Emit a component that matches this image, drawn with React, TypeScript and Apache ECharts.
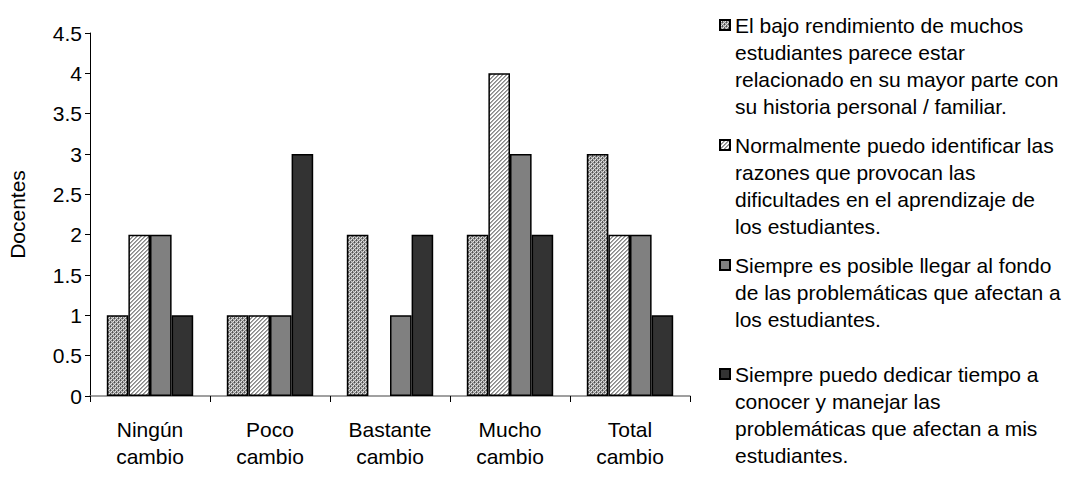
import React, { useEffect, useRef } from "react";
import * as echarts from "echarts";

const categories = ["Ningún\ncambio", "Poco\ncambio", "Bastante\ncambio", "Mucho\ncambio", "Total\ncambio"];

const seriesNames = [
  "El bajo rendimiento de muchos estudiantes parece estar relacionado en su mayor parte con su historia personal / familiar.",
  "Normalmente puedo identificar las razones que provocan las dificultades en el aprendizaje de los estudiantes.",
  "Siempre es posible llegar al fondo de las problemáticas que afectan a los estudiantes.",
  "Siempre puedo dedicar tiempo a conocer y manejar las problemáticas que afectan a mis estudiantes.",
];

const legendLines = [
  ["El bajo rendimiento de muchos", "estudiantes parece estar", "relacionado en su mayor parte con", "su historia personal / familiar."],
  ["Normalmente puedo identificar las", "razones que provocan las", "dificultades en el aprendizaje de", "los estudiantes."],
  ["Siempre es posible llegar al fondo", "de las problemáticas que afectan a", "los estudiantes."],
  ["Siempre puedo dedicar tiempo a", "conocer y manejar las", "problemáticas que afectan a mis", "estudiantes."],
];

const valuesHistoria = [1, 1, 2, 2, 3];
const valuesIdentificar = [2, 1, 0, 4, 2];
const valuesFondo = [2, 1, 1, 3, 2];
const valuesTiempo = [1, 3, 2, 2, 1];

const yMin = 0;
const yMax = 4.5;
const yInterval = 0.5;
const yAxisName = "Docentes";

const FONT = "'Liberation Sans', Arial, sans-serif";
const FS = 21;
const LH = 27;
const legendIconCenters = [25, 145, 265, 374];

function makeDots(): HTMLCanvasElement {
  const c = document.createElement("canvas");
  c.width = 4;
  c.height = 4;
  const ctx = c.getContext("2d")!;
  const map = [
    ["#505050", "#9a9a9a", "#d0d0d0", "#8a8a8a"],
    ["#a0a0a0", "#e8e8e8", "#606060", "#c4c4c4"],
    ["#d0d0d0", "#8a8a8a", "#505050", "#9a9a9a"],
    ["#606060", "#c4c4c4", "#a0a0a0", "#e8e8e8"],
  ];
  for (let y = 0; y < 4; y++) {
    for (let x = 0; x < 4; x++) {
      ctx.fillStyle = map[y][x];
      ctx.fillRect(x, y, 1, 1);
    }
  }
  return c;
}

function makeStripes(): HTMLCanvasElement {
  const c = document.createElement("canvas");
  c.width = 4;
  c.height = 4;
  const ctx = c.getContext("2d")!;
  for (let y = 0; y < 4; y++) {
    for (let x = 0; x < 4; x++) {
      const k = (x + y) % 4;
      ctx.fillStyle = k === 0 ? "#8a8a8a" : k === 1 ? "#a8a8a8" : "#ffffff";
      ctx.fillRect(x, y, 1, 1);
    }
  }
  return c;
}

export default function App() {
  const ref = useRef<HTMLDivElement>(null);

  useEffect(() => {
    if (!ref.current) return;
    const chart = echarts.init(ref.current, undefined, { renderer: "svg" });

    const fills: any[] = [
      { image: makeDots(), repeat: "repeat" },
      { image: makeStripes(), repeat: "repeat" },
      "#808080",
      "#333333",
    ];
    const allValues = [valuesHistoria, valuesIdentificar, valuesFondo, valuesTiempo];

    const series = seriesNames.map((name, i) => ({
      name,
      type: "bar",
      barGap: "0%",
      barCategoryGap: "28%",
      itemStyle: { color: fills[i], borderColor: "#000", borderWidth: 1.5 },
      data: allValues[i].map((v) => (v === 0 ? { value: v, itemStyle: { borderWidth: 0 } } : v)),
    }));

    const legends = seriesNames.map((name, i) => {
      const n = legendLines[i].length;
      const H = (2 * n - 1) * LH;
      // leading blank lines put the first text line level with the icon
      const text = new Array(n - 1).fill("").concat(legendLines[i]).join("\n");
      return {
        show: true,
        type: "plain",
        orient: "vertical",
        left: 714,
        top: legendIconCenters[i] - 5 - H / 2,
        itemWidth: 10,
        itemHeight: 10,
        itemGap: 0,
        icon: "rect",
        selectedMode: false,
        data: [name],
        formatter: () => text,
        textStyle: {
          fontFamily: FONT,
          fontSize: FS,
          color: "#000",
          lineHeight: LH,
        },
      };
    });

    chart.setOption({
      animation: false,
      backgroundColor: "#fff",
      textStyle: { fontFamily: FONT },
      grid: { left: 90, right: 388, top: 33, bottom: 81, containLabel: false, outerBoundsMode: "none" },
      legend: legends,
      xAxis: {
        type: "category",
        data: categories,
        axisLine: { lineStyle: { color: "#808080", width: 1.5 } },
        axisTick: { show: true, length: 6, lineStyle: { color: "#000", width: 1 } },
        axisLabel: { fontFamily: FONT, fontSize: FS, color: "#000", lineHeight: LH, margin: 20, interval: 0 },
        splitLine: { show: false },
      },
      yAxis: {
        type: "value",
        min: yMin,
        max: yMax,
        interval: yInterval,
        name: yAxisName,
        nameLocation: "middle",
        nameGap: 62,
        nameTextStyle: { fontFamily: FONT, fontSize: FS, color: "#000" },
        axisLine: { show: true, lineStyle: { color: "#000", width: 1 } },
        axisTick: { show: true, length: 5, lineStyle: { color: "#000" } },
        axisLabel: { fontFamily: FONT, fontSize: FS, color: "#000", margin: 8 },
        splitLine: { show: false },
      },
      series,
    });

    return () => chart.dispose();
  }, []);

  return <div ref={ref} style={{ position: "fixed", left: 0, top: 0, width: 1078, height: 477 }} />;
}
